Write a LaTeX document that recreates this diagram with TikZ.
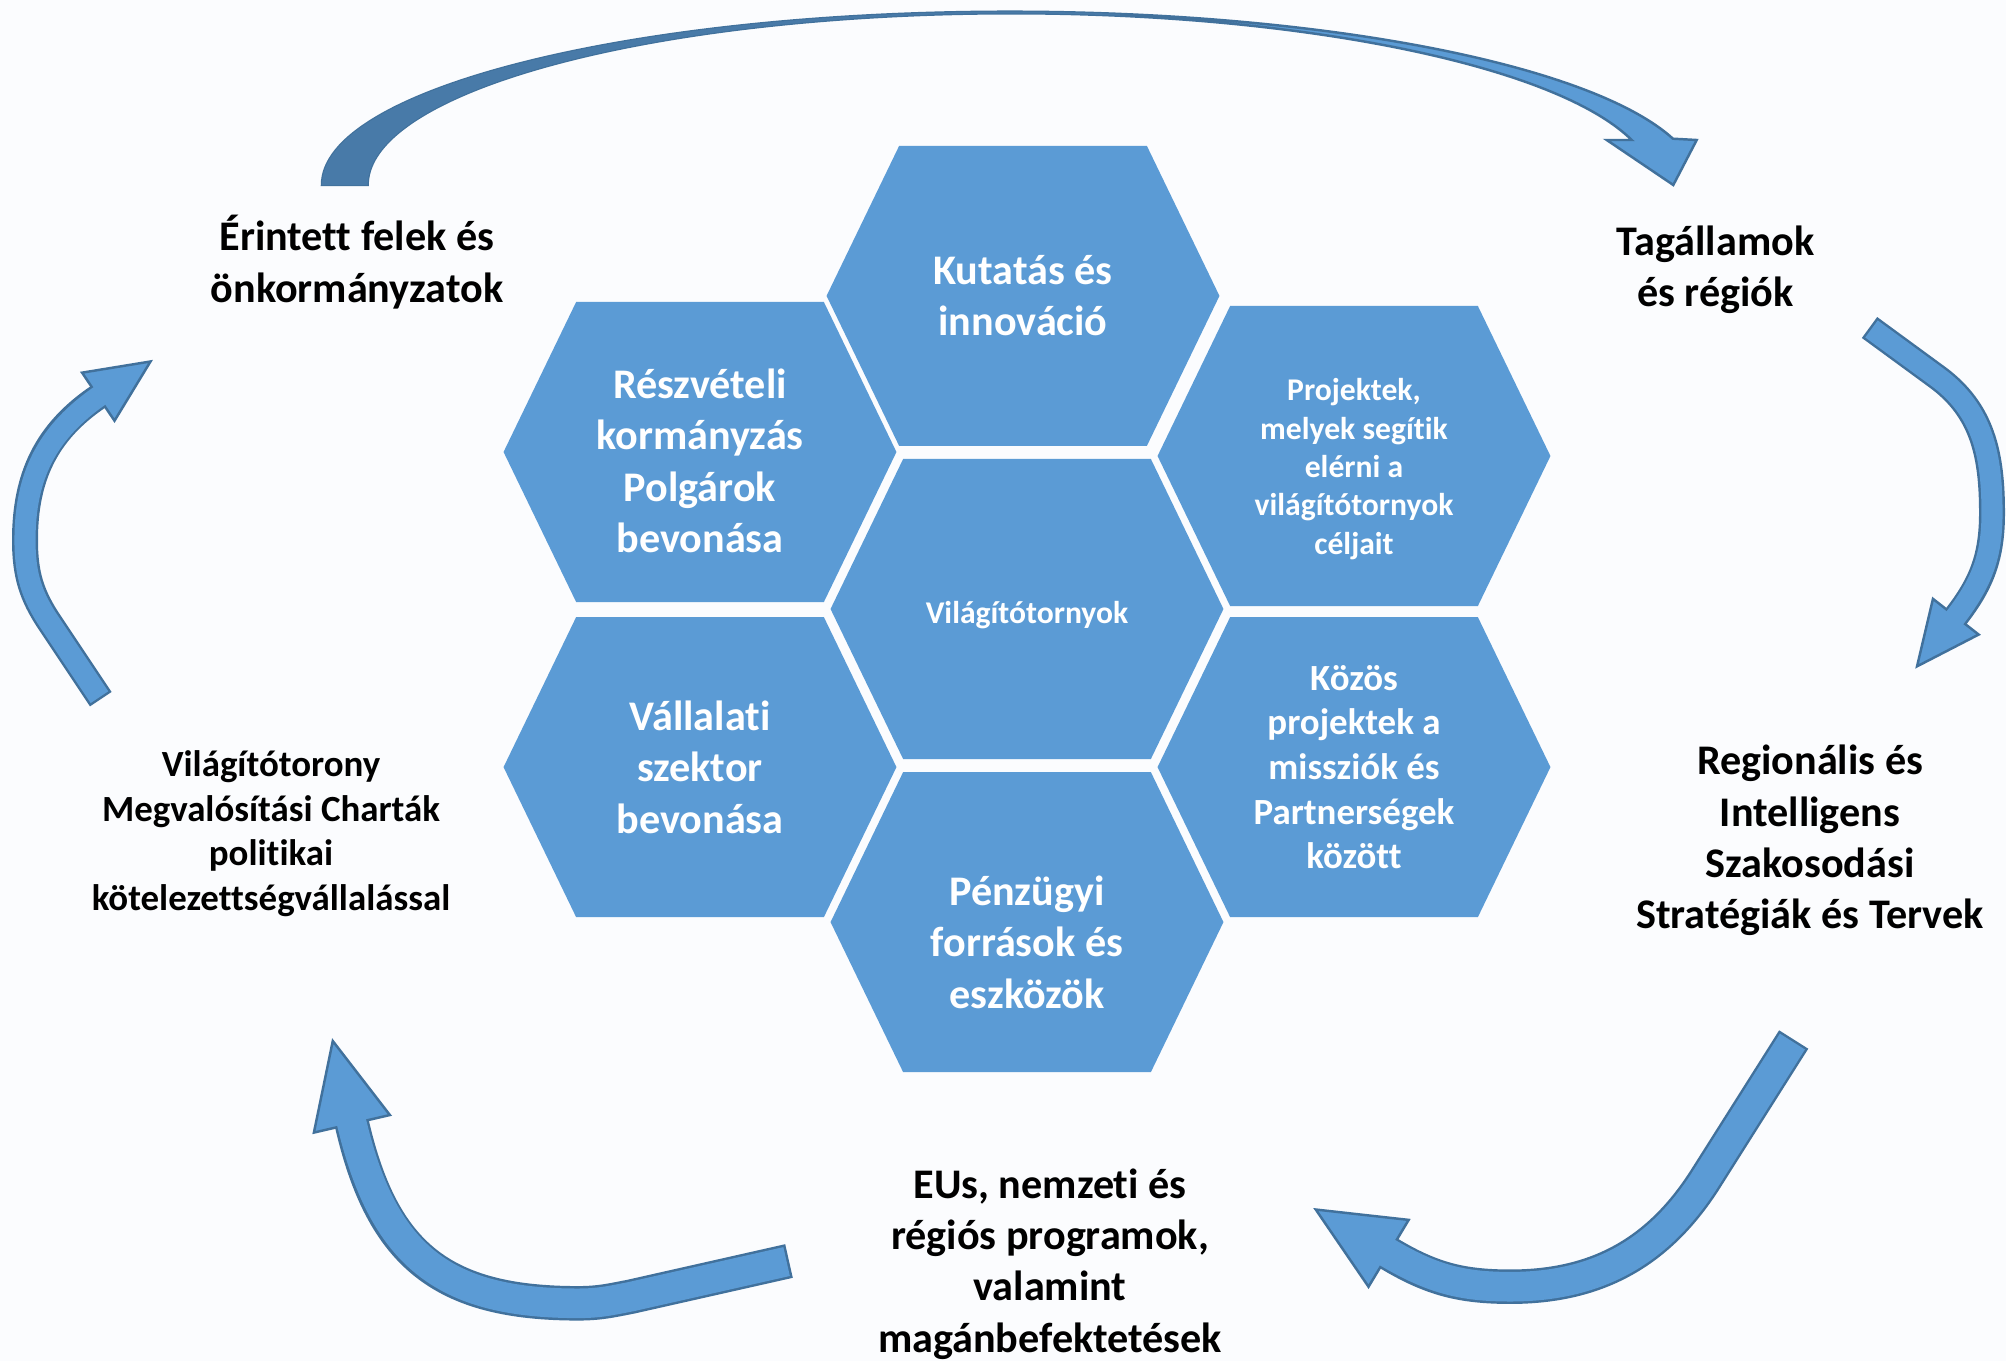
\documentclass[tikz,border=0pt]{standalone}
\usepackage{fontspec}
\setmainfont{Carlito}[Ligatures=NoCommon]
\usetikzlibrary{positioning, backgrounds, calc}
\definecolor{hexblue}{HTML}{5B9BD5}
\definecolor{arrline}{HTML}{41719C}
\definecolor{arrdark}{HTML}{487AA8}
\definecolor{bgpaper}{HTML}{FBFCFE}
\tikzset{%
	hextext/.style={align=center, text=white, font=\bfseries\fontsize{12}{14.6}\selectfont},
	hexbox/.style={hextext, minimum width=3.915cm, minimum height=2.987cm, inner sep=0mm},
	smalltext/.style={font=\bfseries\fontsize{9}{10.9}\selectfont},
	midtext/.style={font=\bfseries\fontsize{10.5}{12.7}\selectfont},
	outlabel/.style={align=center, text=black, font=\bfseries\fontsize{12}{14.6}\selectfont},
	sideshaft/.style={draw=arrline, line width=0.26cm},
	sidefill/.style={draw=hexblue, line width=0.211cm, shorten <=0.7pt, shorten >=-1.5pt},
	botshaft/.style={draw=arrline, line width=0.345cm},
	botfill/.style={draw=hexblue, line width=0.296cm, shorten <=0.7pt, shorten >=-1.5pt},
	tiphead/.style={fill=hexblue, draw=arrline, line width=0.7pt, line join=miter}
}
\begin{document}
\begin{tikzpicture}
		\useasboundingbox (0,0) rectangle (20.06,13.61);
		\begin{scope}[on background layer]
			\fill[bgpaper] (0,0) rectangle (20.06,13.61);
		\end{scope}

		% honeycomb
		\node[hexbox, label={[hextext, smalltext, yshift=-0.06cm]center:Világítótornyok}] (vil) at (10.27,7.52) {};
		\node[hexbox, xshift=-0.04cm] (kut) [above=0.13 of vil] {Kutatás és\\ innováció};
		\node[hexbox, label={[hextext, yshift=-0.2cm]center:{Pénzügyi\\ források és\\ eszközök}}] (penz) [below=0.13 of vil] {};
		\node[hexbox, label={[hextext, yshift=-0.09cm]center:{Részvételi\\ kormányzás\\ Polgárok\\ bevonása}}] (resz) at (7.00,9.09) {};
		\node[hexbox] (vall) [below=0.15 of resz] {Vállalati\\ szektor\\ bevonása};
		\node[hexbox, label={[hextext, smalltext, yshift=-0.13cm]center:{Projektek,\\ melyek segítik\\ elérni a\\ világítótornyok\\ céljait}}] (proj) at (13.54,9.05) {};
		\node[hexbox, midtext] (koz) [below=0.11 of proj] {Közös\\ projektek a\\ missziók és\\ Partnerségek\\ között};

		\begin{scope}[on background layer]
			\foreach \h in {kut, resz, proj, vil, vall, koz, penz}
				\fill[hexblue] (\h.west) -- ([xshift=0.726cm]\h.north west) -- ([xshift=-0.726cm]\h.north east)
					-- (\h.east) -- ([xshift=-0.726cm]\h.south east) -- ([xshift=0.726cm]\h.south west) -- cycle;
		\end{scope}

		% cycle labels
		\node[outlabel] (erint) at (3.57,10.99) {Érintett felek és\\ önkormányzatok};
		\node[outlabel] (tagall) at (17.155,10.91) {Tagállamok\\ és régiók};
		\node[outlabel] (regio) at (18.10,5.205) {Regionális és\\ Intelligens\\ Szakosodási\\ Stratégiák és Tervek};
		\node[outlabel, midtext] (charta) at (2.71,5.275) {Világítótorony\\ Megvalósítási Charták\\ politikai\\ kötelezettségvállalással};
		\node[outlabel] (eus) at (10.50,0.97) {EUs, nemzeti és\\ régiós programok,\\ valamint\\ magánbefektetések};

		% top arrow
		\coordinate (t-tail) at (3.22,11.76);
		\filldraw[fill=hexblue, draw=arrline, line width=0.7pt] (t-tail)
			arc[start angle=180, end angle=15.5, x radius=6.88, y radius=1.733]
			-- (16.967,12.21) -- (16.733,11.76) -- (16.067,12.21) -- (16.317,12.21)
			arc[start angle=15.2, end angle=180, x radius=6.433, y radius=1.717] -- cycle;
		\begin{scope}
			\clip (0,0) rectangle (11.2,13.61);
			\fill[arrdark] (t-tail)
				arc[start angle=180, end angle=15.5, x radius=6.88, y radius=1.733]
				-- (16.967,12.21) -- (16.733,11.76) -- (16.067,12.21) -- (16.317,12.21)
				arc[start angle=15.2, end angle=180, x radius=6.433, y radius=1.717] -- cycle;
		\end{scope}

		% right arrow
		\coordinate (r-tail) at (18.695,10.335);
		\coordinate (r-bend) at (19.367,9.843);
		\coordinate (r-side) at (19.92,8.48);
		\coordinate (r-base) at (19.558,7.443);
		\draw[sideshaft] (r-tail) -- (r-bend) to[out=-36, in=90] (r-side) to[out=-90, in=52] (r-base);
		\filldraw[tiphead, shift={(r-base)}, rotate=-128] (0,0.29) -- (0.63,0) -- (0,-0.29) -- cycle;
		\draw[sidefill] (r-tail) -- (r-bend) to[out=-36, in=90] (r-side) to[out=-90, in=52] (r-base);

		% bottom right arrow
		\coordinate (br-tail) at (17.937,3.215);
		\coordinate (br-bend) at (17.069,1.843);
		\coordinate (br-low) at (15.104,0.743);
		\coordinate (br-base) at (13.886,1.077);
		\draw[botshaft] (br-tail) -- (br-bend) to[out=238, in=0] (br-low) to[out=180, in=-31] (br-base);
		\filldraw[tiphead, shift={(br-base)}, rotate=149] (0,0.39) -- (0.85,0) -- (0,-0.39) -- cycle;
		\draw[botfill] (br-tail) -- (br-bend) to[out=238, in=0] (br-low) to[out=180, in=-31] (br-base);

		% bottom left arrow
		\coordinate (bl-tail) at (7.89,1.00);
		\coordinate (bl-bend) at (6.307,0.643);
		\coordinate (bl-low) at (5.781,0.577);
		\coordinate (bl-base) at (3.519,2.372);
		\draw[botshaft] (bl-tail) -- (bl-bend) to[out=191, in=0] (bl-low) to[out=180, in=-77, looseness=1.2] (bl-base);
		\filldraw[tiphead, shift={(bl-base)}, rotate=103] (0,0.39) -- (0.85,0) -- (0,-0.39) -- cycle;
		\draw[botfill] (bl-tail) -- (bl-bend) to[out=191, in=0] (bl-low) to[out=180, in=-77, looseness=1.2] (bl-base);

		% left arrow
		\coordinate (l-tail) at (1.008,6.618);
		\coordinate (l-bend) at (0.50,7.38);
		\coordinate (l-side) at (0.25,8.21);
		\coordinate (l-base) at (0.983,9.643);
		\draw[sideshaft] (l-tail) -- (l-bend) to[out=124, in=-90] (l-side) to[out=90, in=214] (l-base);
		\filldraw[tiphead, shift={(l-base)}, rotate=34] (0,0.29) -- (0.63,0) -- (0,-0.29) -- cycle;
		\draw[sidefill] (l-tail) -- (l-bend) to[out=124, in=-90] (l-side) to[out=90, in=214] (l-base);
	\end{tikzpicture}
\end{document}
